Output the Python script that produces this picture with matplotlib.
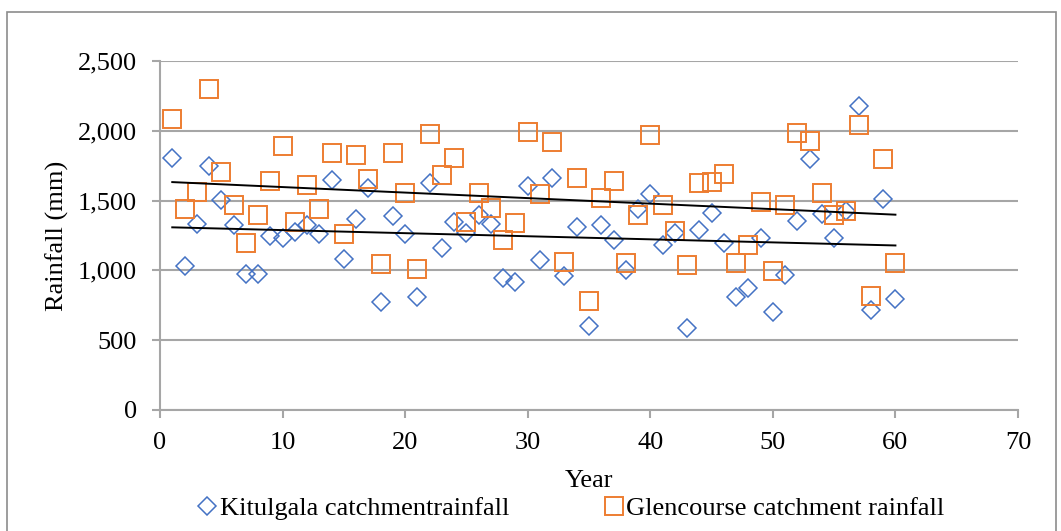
import matplotlib
matplotlib.use('Agg')
import matplotlib.pyplot as plt
import numpy as np
from matplotlib.patches import Rectangle
from matplotlib.ticker import FuncFormatter, MultipleLocator

years = np.arange(1, 61)

kitulgala = [1805, 1031, 1330, 1750, 1501, 1328, 974, 974, 1247, 1233,
             1275, 1323, 1259, 1644, 1081, 1370, 1591, 777, 1387, 1264,
             812, 1629, 1157, 1344, 1271, 1399, 1335, 948, 914, 1608,
             1078, 1660, 960, 1311, 603, 1325, 1216, 1002, 1437, 1544,
             1180, 1268, 587, 1287, 1413, 1197, 808, 872, 1233, 705,
             964, 1354, 1795, 1401, 1235, 1423, 2176, 717, 1508, 793]

glencourse = [2085, 1439, 1563, 2299, 1703, 1472, 1195, 1396, 1641, 1890,
              1344, 1613, 1437, 1843, 1264, 1826, 1658, 1043, 1841, 1553,
              1012, 1974, 1682, 1807, 1347, 1553, 1449, 1221, 1340, 1988,
              1549, 1919, 1057, 1665, 784, 1518, 1639, 1055, 1399, 1971,
              1470, 1280, 1038, 1627, 1632, 1689, 1055, 1185, 1492, 995,
              1468, 1983, 1924, 1556, 1394, 1425, 2038, 819, 1796, 1052]

blue = '#4472C4'
orange = '#ED7D31'
grid_col = '#A6A6A6'
fs = 19

plt.rcParams['font.family'] = ['Liberation Serif', 'DejaVu Serif']

fig = plt.figure(figsize=(10.61, 5.31), dpi=100)
ax = fig.add_axes([160/1061, 1-410/531, (1018-160)/1061, (410-61)/531])

ax.plot(years, kitulgala, linestyle='none', marker='D', markersize=9.3,
        markerfacecolor='none', markeredgecolor=blue, markeredgewidth=1.1,
        label='Kitulgala catchmentrainfall', zorder=3)
ax.plot(years, glencourse, linestyle='none', marker='s', markersize=12.8,
        markerfacecolor='none', markeredgecolor=orange, markeredgewidth=1.4,
        label='Glencourse catchment rainfall', zorder=3)

# linear trend lines
for vals in (kitulgala, glencourse):
    k, b = np.polyfit(years, vals, 1)
    ax.plot([years[0], years[-1]], [k*years[0]+b, k*years[-1]+b],
            color='black', lw=1.4, zorder=4)

ax.set_xlim(0, 70)
ax.set_ylim(0, 2500)
ax.xaxis.set_major_locator(MultipleLocator(10))
ax.yaxis.set_major_locator(MultipleLocator(500))
ax.yaxis.set_major_formatter(FuncFormatter(lambda v, p: '{:,.0f}'.format(v)))
ax.grid(axis='y', color=grid_col, lw=1.5)
ax.set_axisbelow(True)
for s in ('top', 'right'):
    ax.spines[s].set_visible(False)
for s in ('left', 'bottom'):
    ax.spines[s].set_color(grid_col)
    ax.spines[s].set_linewidth(1.5)
ax.tick_params(axis='both', colors=grid_col, width=1.5, length=6,
               labelcolor='black', labelsize=fs)
ax.tick_params(axis='x', pad=10)
ax.tick_params(axis='y', pad=10.5)

ax.set_xlabel('Year', fontsize=fs, va='center')
ax.xaxis.set_label_coords(0.5, (410-481)/349)
ax.set_ylabel('Rainfall (mm)', fontsize=fs, va='center')
ax.yaxis.set_label_coords((57-160)/858, 0.5)

fig.legend(loc='center', bbox_to_anchor=(571/1061, 1-508/531), ncol=2,
           frameon=False, fontsize=fs, handlelength=0.75, handletextpad=0.1,
           columnspacing=3.6, borderaxespad=0, borderpad=0)

fig.patches.append(Rectangle((7/1061, -0.1), (1056-7)/1061, 1.1-12/531,
                             transform=fig.transFigure, fill=False,
                             edgecolor='#8C8C8C', lw=1.2))

fig.savefig('out.png', dpi=100)
